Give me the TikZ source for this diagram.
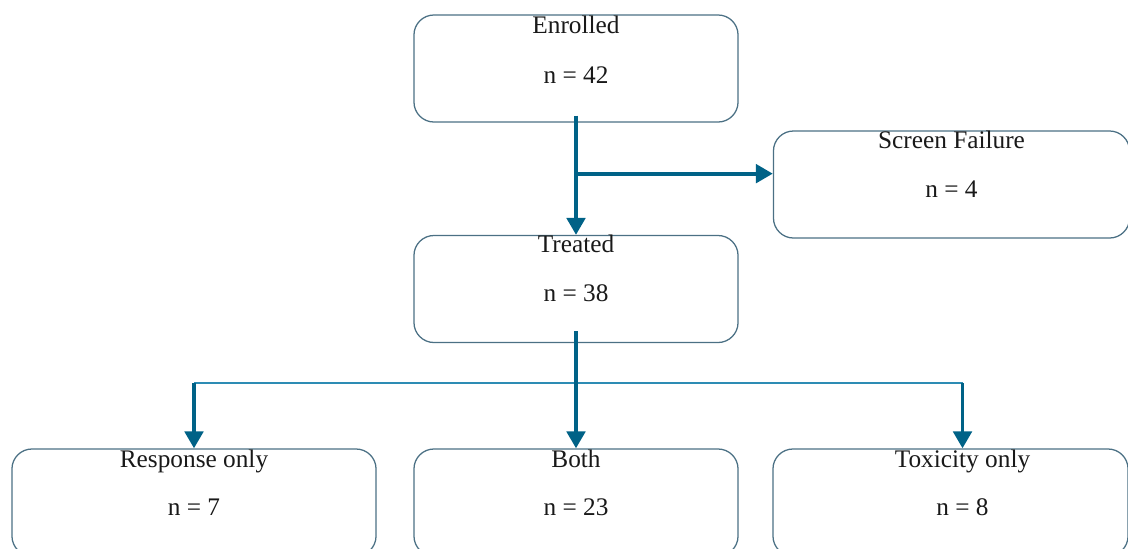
\documentclass[tikz,border=0pt]{standalone}
\usepackage{fontspec}
\setmainfont{Liberation Serif}
\usetikzlibrary{arrows.meta,calc}
\definecolor{flowblue}{RGB}{0,98,135}
\definecolor{splitblue}{RGB}{45,140,180}
\definecolor{boxedge}{RGB}{75,112,132}
\tikzset{
	stagebox/.style={draw=boxedge, line width=0.9pt, rounded corners=0.5cm, inner sep=0pt, minimum height=2.675cm},
	stagetext/.style={font=\fontsize{18}{22}\selectfont, text=black!90, anchor=base, inner sep=0pt},
	flow/.style={draw=flowblue, line width=2.8pt, -{Triangle[width=13pt,length=12pt]}},
	splitline/.style={draw=splitblue, line width=1.3pt}
}

\begin{document}
\begin{tikzpicture}[x=0.025cm, y=-0.025cm]
		%%%%% START %%%%%
		\useasboundingbox (0,0) rectangle (1128,548);
		\clip (0,0) rectangle (1128,548);
		
		% boxes
		\node[stagebox, minimum width=8.1cm] (enrolled) at (576,68.5) {};
		\node[stagebox, minimum width=8.9cm] (screen) at (951.5,184.5) {};
		\node[stagebox, minimum width=8.1cm] (treated) at (576,289) {};
		\node[stagebox, minimum width=9.1cm] (response) at (194,502.5) {};
		\node[stagebox, minimum width=8.1cm] (both) at (576,502.5) {};
		\node[stagebox, minimum width=8.875cm] (toxicity) at (950.5,502.5) {};
		
		% texts
		\node[stagetext] (enrolledT) at ($(enrolled.north)+(0,19)$) {Enrolled};
		\node[stagetext] (enrolledN) at ($(enrolled.north)+(0,69)$) {n = 42};
		\node[stagetext] (screenT) at ($(screen.north)+(0,18)$) {Screen Failure};
		\node[stagetext] (screenN) at ($(screen.north)+(0,67)$) {n = 4};
		\node[stagetext] (treatedT) at ($(treated.north)+(0,18)$) {Treated};
		\node[stagetext] (treatedN) at ($(treated.north)+(0,67)$) {n = 38};
		\node[stagetext] (responseT) at ($(response.north)+(0,19)$) {Response only};
		\node[stagetext] (responseN) at ($(response.north)+(0,67)$) {n = 7};
		\node[stagetext] (bothT) at ($(both.north)+(0,19)$) {Both};
		\node[stagetext] (bothN) at ($(both.north)+(0,67)$) {n = 23};
		\node[stagetext] (toxicityT) at ($(toxicity.north)+(12,19)$) {Toxicity only};
		\node[stagetext] (toxicityN) at ($(toxicity.north)+(12,67)$) {n = 8};
		
		% connectors
		\coordinate (branch) at ($(enrolled.south)+(0,51)$);
		\coordinate (toxicityIn) at ($(toxicity.north)+(12,0)$);
		\coordinate (split) at ($(treated.south)+(0,40)$);
		
		\draw[flow] ($(enrolled.south)+(0,-7)$) -- (treated.north);
		\draw[flow] (branch) -- (branch -| screen.west);
		
		\draw[splitline] (response.north |- split) -- (toxicityIn |- split);
		\draw[flow] ($(treated.south)+(0,-12)$) -- (both.north);
		\draw[flow] (response.north |- split) -- (response.north);
		\draw[flow] (toxicityIn |- split) -- (toxicityIn);
		
		%%%%% END %%%%%
\end{tikzpicture}
\end{document}
